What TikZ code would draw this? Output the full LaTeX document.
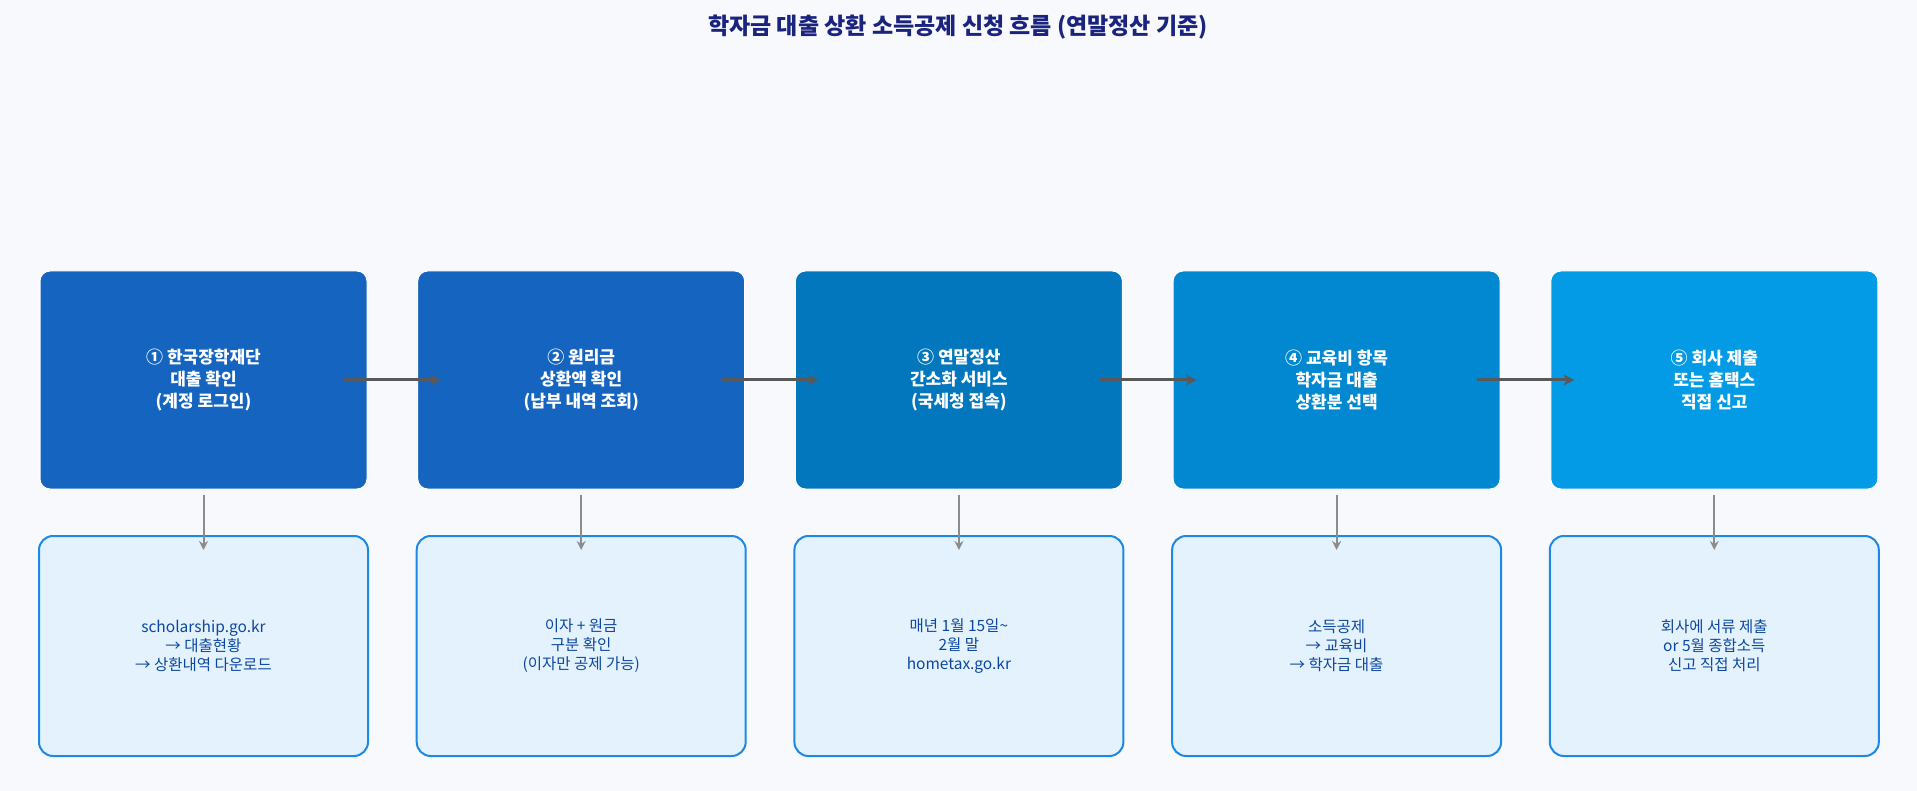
\documentclass[tikz,border=0pt]{standalone}
\usepackage{fontspec}
\setmainfont{Noto Sans CJK KR}
\usetikzlibrary{arrows.meta}
\definecolor{bg}{HTML}{F7F9FC}
\definecolor{c1}{HTML}{1565C0}
\definecolor{c2}{HTML}{1565C0}
\definecolor{c3}{HTML}{0277BD}
\definecolor{c4}{HTML}{0288D1}
\definecolor{c5}{HTML}{039BE5}
\definecolor{lb}{HTML}{E3F2FD}
\definecolor{lbd}{HTML}{1E88E5}
\definecolor{ttl}{HTML}{1A237E}
\definecolor{dtx}{HTML}{0D47A1}
\begin{document}
\begin{tikzpicture}[x=1pt,y=-1pt,
  topbox/.style={draw=white,line width=1pt,rounded corners=10pt,minimum width=327pt,minimum height=218pt,align=center,text=white,font=\fontsize{17}{22}\selectfont\bfseries},
  botbox/.style={draw=lbd,fill=lb,line width=2pt,rounded corners=14pt,minimum width=329pt,minimum height=220pt,align=center,text=dtx,font=\fontsize{15.5}{19}\selectfont},
  harr/.style={draw=black!65,line width=3pt,-{Stealth[length=11pt,width=11pt]}},
  varr/.style={draw=black!45,line width=2pt,-{Stealth[length=9pt,width=9pt]}}]
\fill[bg] (0,0) rectangle (1917,791);
\node[font=\fontsize{23}{28}\selectfont\bfseries,text=ttl] (title) at (958,27) {학자금 대출 상환 소득공제 신청 흐름 (연말정산 기준)};
\def\px{377.7}
\node[topbox,fill=c1] (t1) at (203.5,380) {① 한국장학재단\\대출 확인\\(계정 로그인)};
\node[topbox,fill=c2] (t2) at (203.5+\px,380) {② 원리금\\상환액 확인\\(납부 내역 조회)};
\node[topbox,fill=c3] (t3) at (203.5+2*\px,380) {③ 연말정산\\간소화 서비스\\(국세청 접속)};
\node[topbox,fill=c4] (t4) at (203.5+3*\px,380) {④ 교육비 항목\\학자금 대출\\상환분 선택};
\node[topbox,fill=c5] (t5) at (203.5+4*\px,380) {⑤ 회사 제출\\또는 홈택스\\직접 신고};
\node[botbox] (b1) at (203.5,646) {scholarship.go.kr\\→ 대출현황\\→ 상환내역 다운로드};
\node[botbox] (b2) at (203.5+\px,646) {이자 + 원금\\구분 확인\\(이자만 공제 가능)};
\node[botbox] (b3) at (203.5+2*\px,646) {매년 1월 15일\textasciitilde\\2월 말\\hometax.go.kr};
\node[botbox] (b4) at (203.5+3*\px,646) {소득공제\\→ 교육비\\→ 학자금 대출};
\node[botbox] (b5) at (203.5+4*\px,646) {회사에 서류 제출\\or 5월 종합소득\\신고 직접 처리};
\foreach \a/\b in {t1/t2,t2/t3,t3/t4,t4/t5}{
  \draw[harr] ([xshift=-24pt]\a.east) -- ([xshift=24pt]\b.west);}
\foreach \i in {1,...,5}{
  \draw[varr] ([yshift=-5pt]t\i.south) -- ([yshift=-15pt]b\i.north);}
\end{tikzpicture}
\end{document}
